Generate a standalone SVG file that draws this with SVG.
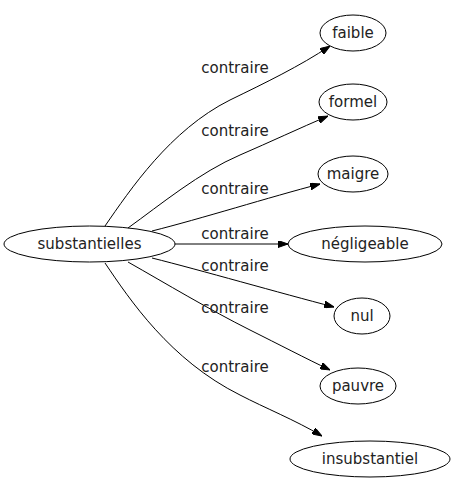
<svg xmlns="http://www.w3.org/2000/svg" width="453" height="491" viewBox="0 0 453 491">
<style>
.n ellipse{fill:none;stroke:#000;stroke-width:1}
text{font-family:"DejaVu Sans",sans-serif;font-size:15px;fill:#222;text-anchor:middle}
.e path{fill:none;stroke:#000;stroke-width:1}
</style>
<defs>
<marker id="ah" viewBox="0 0 10 7" refX="10" refY="3.5" markerWidth="10" markerHeight="7" markerUnits="userSpaceOnUse" orient="auto">
<path d="M0,0 L10,3.5 L0,7 Z" fill="#000" stroke="#000"/>
</marker>
</defs>
<rect width="453" height="491" fill="#fff"/>
<g class="e" id="edges">
<path d="M105,226 C130,190 170,130 230,100 C265,83 300,66 330,46" marker-end="url(#ah)"/>
<path d="M128,228 C160,205 200,172 240,155 C270,142 300,128 328,116" marker-end="url(#ah)"/>
<path d="M152,231 C200,219 270,197 320,184" marker-end="url(#ah)"/>
<path d="M175,244 L288,244" marker-end="url(#ah)"/>
<path d="M152,258 C200,270 280,293 334,307" marker-end="url(#ah)"/>
<path d="M128,262 C165,283 210,310 250,330 C280,345 305,358 330,370" marker-end="url(#ah)"/>
<path d="M105,263 C130,300 170,360 240,395 C265,408 295,420 322,436" marker-end="url(#ah)"/>
<text x="235" y="73">contraire</text>
<text x="235" y="136">contraire</text>
<text x="235" y="194">contraire</text>
<text x="235" y="239">contraire</text>
<text x="235" y="271">contraire</text>
<text x="235" y="313">contraire</text>
<text x="235" y="372">contraire</text>
</g>
<g class="n" id="n0"><ellipse cx="89.5" cy="244" rx="85.5" ry="18"/><text x="89.5" y="249">substantielles</text></g>
<g class="n" id="n1"><ellipse cx="353" cy="33" rx="33" ry="18"/><text x="353" y="38">faible</text></g>
<g class="n" id="n2"><ellipse cx="353" cy="102" rx="34" ry="18"/><text x="353" y="107">formel</text></g>
<g class="n" id="n3"><ellipse cx="353" cy="174" rx="35" ry="18"/><text x="353" y="179">maigre</text></g>
<g class="n" id="n4"><ellipse cx="365" cy="244" rx="77" ry="18"/><text x="365" y="249">négligeable</text></g>
<g class="n" id="n5"><ellipse cx="362" cy="316" rx="28" ry="18"/><text x="362" y="321">nul</text></g>
<g class="n" id="n6"><ellipse cx="358" cy="386" rx="38" ry="18"/><text x="358" y="391">pauvre</text></g>
<g class="n" id="n7"><ellipse cx="370" cy="459" rx="80" ry="18"/><text x="370" y="464">insubstantiel</text></g>
</svg>
